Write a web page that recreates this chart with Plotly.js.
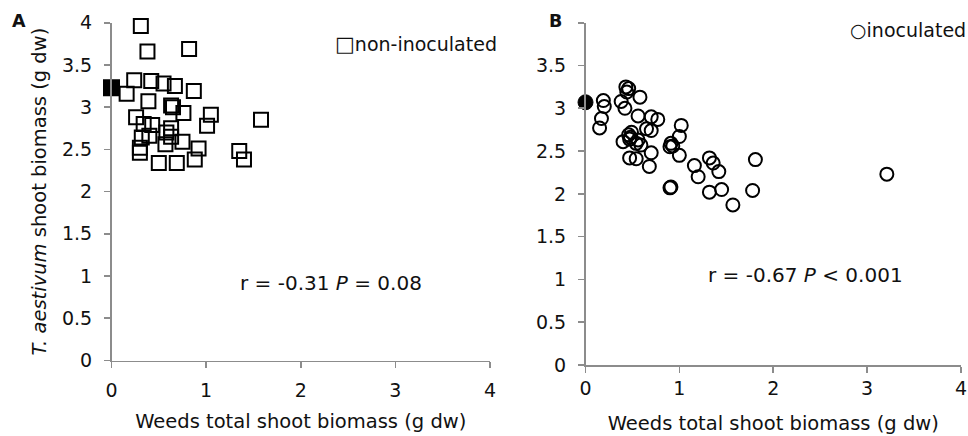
<!DOCTYPE html>
<html>
<head>
<meta charset="utf-8">
<script src="https://cdn.plot.ly/plotly-3.0.1.min.js"></script>
<style>html,body{margin:0;padding:0;background:#fff;}#chart{width:968px;height:436px;}</style>
</head>
<body>
<div id="chart"></div>
<script>
// Panel A: non-inoculated
const weedsA = [0.31,0.38,0.82,0.16,0.24,0.42,0.55,0.67,0.87,0.39,0.63,0.65,0.76,1.05,1.01,1.58,0.26,0.34,0.43,0.63,0.32,0.40,0.63,0.58,0.57,0.75,0.30,0.30,0.92,0.88,0.50,0.69,1.35,1.40];
const wheatA = [3.96,3.66,3.69,3.16,3.32,3.31,3.28,3.25,3.19,3.07,3.02,3.00,2.93,2.91,2.78,2.85,2.88,2.80,2.79,2.75,2.64,2.66,2.65,2.70,2.56,2.59,2.52,2.46,2.51,2.38,2.34,2.34,2.48,2.38];
const controlA_x = [0];
const controlA_y = [3.23];
// Panel B: inoculated
const weedsB = [0.19,0.20,0.17,0.15,0.43,0.46,0.44,0.58,0.38,0.42,0.56,0.70,0.77,1.02,1.00,0.91,0.93,0.65,0.70,0.49,0.46,0.48,0.47,0.40,0.54,0.56,0.59,0.70,0.47,0.54,0.68,1.16,1.20,1.32,1.36,1.42,1.00,1.32,1.45,0.91,0.90,1.57,1.81,1.78,3.21,0.90];
const wheatB = [3.09,3.02,2.88,2.77,3.25,3.23,3.19,3.13,3.08,3.00,2.91,2.90,2.87,2.80,2.67,2.59,2.56,2.76,2.74,2.72,2.69,2.66,2.64,2.61,2.59,2.63,2.57,2.48,2.42,2.41,2.32,2.33,2.20,2.42,2.36,2.26,2.45,2.02,2.05,2.08,2.07,1.87,2.40,2.04,2.23,2.55];
const controlB_x = [0];
const controlB_y = [3.07];
// Ticks
const tickValsX = [0,1,2,3,4];
const tickValsY = [0,0.5,1,1.5,2,2.5,3,3.5,4];
const tickTextYA = ["0","0.5","1","1.5","2","2.5","3","3.5","4"];
const tickTextYB = ["0","0.5","1","1.5","2","2.5","3","3.5",""];
const statsA = "r = -0.31 <i>P</i> = 0.08";
const statsB = "r = -0.67 <i>P</i> < 0.001";

const W = 968, H = 436;
const FONT = "DejaVu Sans, Liberation Sans, Arial, sans-serif";
const axisCol = "#8c8c8c";

const traces = [
  {x: weedsA, y: wheatA, xaxis:'x', yaxis:'y', type:'scatter', mode:'markers', cliponaxis:false, showlegend:false,
   marker:{symbol:'square-open', size:14, color:'#000', line:{width:2, color:'#000'}}},
  {x: controlA_x, y: controlA_y, xaxis:'x', yaxis:'y', type:'scatter', mode:'markers', cliponaxis:false, showlegend:false,
   marker:{symbol:'square', size:15, color:'#000', line:{width:2, color:'#000'}}},
  {x: weedsB, y: wheatB, xaxis:'x2', yaxis:'y2', type:'scatter', mode:'markers', cliponaxis:false, showlegend:false,
   marker:{symbol:'circle-open', size:13, color:'#000', line:{width:2, color:'#000'}}},
  {x: controlB_x, y: controlB_y, xaxis:'x2', yaxis:'y2', type:'scatter', mode:'markers', cliponaxis:false, showlegend:false,
   marker:{symbol:'circle', size:15, color:'#000', line:{width:1, color:'#000'}}}
];

function xAx(domain, anchor, standoff, titleStandoff){
  return {domain: domain, anchor: anchor, range:[0,4], tickvals: tickValsX, ticktext: tickValsX.map(String),
    showline:true, linecolor:axisCol, linewidth:1.6, ticks:'outside', ticklen:6, tickwidth:1.6, tickcolor:axisCol,
    showgrid:false, zeroline:false, fixedrange:true, ticklabelstandoff: standoff,
    tickfont:{family:FONT, size:19, color:'#111'},
    title:{text:'Weeds total shoot biomass (g dw)', font:{family:FONT, size:19.5, color:'#111'}, standoff:titleStandoff}};
}
function yAx(domain, anchor, ticktext, title){
  const a = {domain: domain, anchor: anchor, range:[0,4], tickvals: tickValsY, ticktext: ticktext,
    showline:true, linecolor:axisCol, linewidth:1.6, ticks:'outside', ticklen:6, tickwidth:1.6, tickcolor:axisCol,
    showgrid:false, zeroline:false, fixedrange:true, ticklabelstandoff: 8,
    tickfont:{family:FONT, size:19, color:'#111'}};
  if (title) a.title = {text:title, font:{family:FONT, size:19.5, color:'#111'}, standoff:10};
  return a;
}

const layout = {
  width: W, height: H, margin:{l:0,r:0,t:0,b:0}, paper_bgcolor:'#fff', plot_bgcolor:'rgba(0,0,0,0)',
  showlegend:false,
  xaxis: xAx([111.5/W, 490/W], 'y', 6, 14),
  yaxis: yAx([1-360.5/H, 1-22.7/H], 'x', tickTextYA, '<i>T. aestivum</i> shoot biomass (g dw)'),
  xaxis2: xAx([585.5/W, 961/W], 'y2', 0, 18),
  yaxis2: yAx([1-365/H, 1-22.7/H], 'x2', tickTextYB, null),
  annotations: [
    {xref:'paper', yref:'paper', x:330.5/W, y:1-283/H, xanchor:'center', yanchor:'middle', showarrow:false,
     text: statsA, font:{family:FONT, size:20, color:'#111'}},
    {xref:'paper', yref:'paper', x:805/W, y:1-275/H, xanchor:'center', yanchor:'middle', showarrow:false,
     text: statsB, font:{family:FONT, size:20, color:'#111'}},
    {xref:'paper', yref:'paper', x:333/W, y:1-44/H, xanchor:'left', yanchor:'middle', showarrow:false,
     text: '<span style="font-size:21px">□</span>non-inoculated', font:{family:FONT, size:19, color:'#111'}},
    {xref:'paper', yref:'paper', x:848/W, y:1-30/H, xanchor:'left', yanchor:'middle', showarrow:false,
     text: '○inoculated', font:{family:FONT, size:19, color:'#111'}},
    {xref:'paper', yref:'paper', x:19/W, y:1-21.5/H, xanchor:'center', yanchor:'middle', showarrow:false,
     text: '<b>A</b>', font:{family:FONT, size:17.5, color:'#111'}},
    {xref:'paper', yref:'paper', x:555/W, y:1-21.5/H, xanchor:'center', yanchor:'middle', showarrow:false,
     text: '<b>B</b>', font:{family:FONT, size:17.5, color:'#111'}}
  ]
};

Plotly.newPlot('chart', traces, layout, {staticPlot:true, displayModeBar:false});
</script>
</body>
</html>
